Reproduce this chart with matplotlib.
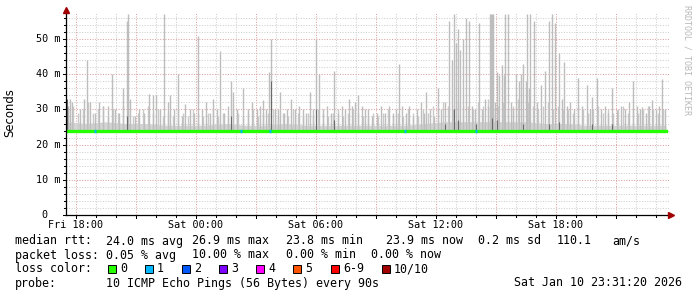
import numpy as np
import matplotlib.pyplot as plt
from matplotlib.patches import Rectangle

plt.rcParams['font.family'] = ['DejaVu Sans Mono', 'DejaVu Sans']

# time axis: hours since Fri 17:30
tick_t = [0.5, 6.5, 12.5, 18.5, 24.5]
tick_labels = ['Fri 18:00', 'Sat 00:00', 'Sat 06:00', 'Sat 12:00', 'Sat 18:00']
ms_ticks = [0, 10, 20, 30, 40, 50]
ms_labels = ['0', '10 m', '20 m', '30 m', '40 m', '50 m']

# smoke spikes (max ping per step, ms)
spike_t = [0.10, 0.20, 0.30, 0.70, 0.90, 1.05, 1.20, 1.45, 1.65, 1.85, 2.10, 2.30, 2.45, 2.65,
           2.85, 3.05, 3.10, 3.20, 3.45, 3.65, 3.90, 4.15, 4.35, 4.50, 4.70, 4.90, 5.10,
           5.20, 5.40, 5.60, 5.80, 5.95, 6.20, 6.40, 6.60, 6.80, 7.00, 7.20, 7.35, 7.55, 7.70,
           7.90, 8.10, 8.25, 8.35, 8.55, 8.85, 9.10, 9.30, 9.55, 9.70, 9.85, 10.00,
           10.15, 10.25, 10.45, 10.60, 10.70, 10.90, 11.05, 11.25, 11.45, 11.65, 11.85, 12.00,
           12.20, 12.35, 12.50, 12.65, 12.85, 13.05, 13.25, 13.40, 13.60, 13.80, 13.95, 14.15,
           14.30, 14.45, 14.60, 14.80, 14.95,
           15.10, 15.30, 15.55, 15.75, 15.95, 16.15, 16.35, 16.50, 16.65, 16.80, 17.00, 17.15,
           17.35, 17.55, 17.75, 17.90, 18.00, 18.20, 18.40, 18.60, 18.75, 18.95, 19.15, 19.30,
           19.40, 19.50, 19.60, 19.70, 19.85, 20.00,
           20.15, 20.30, 20.45, 20.65, 20.80, 20.95, 21.10, 21.20, 21.25, 21.30, 21.35, 21.45,
           21.55, 21.65, 21.80, 21.90, 21.95, 22.10, 22.25, 22.35, 22.50, 22.65, 22.75, 22.85,
           23.00, 23.05, 23.15, 23.20, 23.40, 23.55, 23.75, 23.95, 24.15, 24.30, 24.45, 24.65,
           24.80, 24.90, 25.05,
           25.20, 25.40, 25.60, 25.80, 26.05, 26.20, 26.30, 26.55, 26.75, 26.95, 27.10, 27.30,
           27.55, 27.75, 27.95, 28.15, 28.35, 28.55, 28.70, 28.80, 29.00, 29.15, 29.30, 29.50,
           29.65, 29.80, 29.95]
spike_ms = [31, 33, 32, 30, 33, 44, 32, 29, 32, 31, 31, 40, 30, 29,
            36, 55, 57, 33, 28, 30, 29, 34.5, 34, 34, 30, 57, 32,
            34, 30, 40, 28, 31.5, 30, 29, 51, 30, 32, 29, 33, 30, 46.6,
            29, 31, 38, 35, 30, 36, 30, 32, 30, 31, 32.6, 30,
            40.6, 50, 30, 30, 35, 29, 30, 33, 30, 31, 30, 29,
            35, 30, 50, 40, 30, 31, 29, 41, 29, 31, 30, 33,
            31, 32, 34, 31, 30,
            30, 28, 29, 31, 29, 31, 29, 30, 43, 31, 29, 31,
            28, 30, 32, 29, 35, 30, 28, 36, 30, 32, 55, 44,
            57, 49, 53, 47, 50, 56,
            55, 31, 30, 54.5, 30, 33, 31, 57, 57, 57, 57, 32,
            40.6, 39.8, 42.6, 39.8, 57, 57, 32, 30, 40, 38, 40, 43,
            38, 57, 36, 57, 55, 32, 37, 41, 55, 57, 54.5, 46,
            33, 43.5, 31,
            32, 30, 39, 31, 37, 30, 33.5, 39, 30, 31, 29, 36,
            29.8, 31, 30, 32, 38, 31, 30, 30.7, 29, 31, 32.7, 30,
            31, 38.6, 30]

# low smoke every 15 minutes (upper pings of the dense part, ms)
low_step = 0.25
low_ms = [30, 31, 29, 30, 32, 29, 30, 31, 28, 30, 29, 31, 30, 28, 29, 30, 31, 29, 30, 28,
          29, 28, 30, 29, 28, 30, 29, 28, 29, 30, 28, 29, 28, 30, 29, 28, 29, 30, 28, 29,
          29, 30, 28, 29, 28, 30, 29, 28, 29, 28, 30, 29, 28, 29, 30, 28, 29, 30, 29, 28,
          28, 29, 28, 29, 30, 28, 29, 28, 30, 29, 28, 30, 29, 31, 30, 32, 31, 30, 32, 31,
          31, 30, 32, 31, 33, 30, 31, 32, 30, 31, 33, 30, 32, 31, 30, 31, 32, 30, 31, 30,
          30, 29, 31, 30, 29, 30, 31, 29, 30, 29, 30, 31, 29, 30, 29, 30, 31, 30, 29, 30]

# dense smoke band top, hourly
band_t = list(range(0, 31))
band_ms = [26.5, 26.0, 26.5, 26.0, 26.0, 25.5, 25.5, 25.5, 26.0, 25.5, 25.5, 26.0, 25.5,
           25.5, 25.5, 25.5, 25.5, 25.5, 26.0, 26.5, 26.5, 26.5, 26.5, 26.5, 26.0, 26.0,
           25.5, 25.5, 25.5, 25.5, 25.5]

# darker streaks near the median
dark_t = [0.05, 3.05, 8.25, 10.25, 12.50, 13.40, 18.95, 19.40, 19.60, 20.50, 21.30, 21.55,
          22.85, 24.15, 24.65, 26.30, 27.30]
dark_ms = [33, 28, 28, 38, 30, 27, 26, 30, 27, 26, 27.5, 27, 26, 26, 26.5, 26, 26]

# median rtt, hourly
median_t = list(range(0, 31))
median_ms = [24.0] * 31

# packet loss events (1/10)
loss_t = [1.45, 8.75, 10.2, 16.95, 20.5]
loss_ms = [24.0, 24.0, 24.0, 24.0, 24.0]

loss_names = ['0', '1', '2', '3', '4', '5', '6-9', '10/10']
loss_colors = ['#26ff00', '#00b8ff', '#0059ff', '#7e00ff', '#ff00ff', '#ff5500', '#ff0000', '#a10000']

rtt_stats = ['24.0 ms avg', '26.9 ms max', '23.8 ms min', '23.9 ms now', '0.2 ms sd', '110.1', 'am/s']
loss_stats = ['0.05 % avg', '10.00 % max', '0.00 % min', '0.00 % now']
probe_text = '10 ICMP Echo Pings (56 Bytes) every 90s'
stamp = 'Sat Jan 10 23:31:20 2026'

W, H = 697, 297
fig = plt.figure(figsize=(W / 100, H / 100), dpi=100)
fig.patch.set_facecolor('white')
ax = fig.add_axes([66 / W, 82 / H, 603 / W, 203 / H])
ax.set_xlim(0, 30.15)
ax.set_ylim(0, 57.7)
ax.axis('off')

pxy = 57.7 / 203   # ms per pixel
pxx = 30.15 / 603  # hours per pixel

# grid
minor_c, major_c = '#cfcfcf', '#dfa0a0'
for h in np.arange(0.5, 30.15, 1.0):
    c = major_c if round(h - 0.5) % 3 == 0 else minor_c
    ax.plot([h, h], [0, 57.7], color=c, lw=0.75, ls=(0, (1, 1.5)), zorder=0.5)
    ax.plot([h, h], [0, -(3 if c == major_c else 2) * pxy], color='black', lw=0.75,
            clip_on=False, zorder=4)
for v in range(2, 58, 2):
    c = major_c if v % 10 == 0 else minor_c
    ax.plot([0, 30.15], [v, v], color=c, lw=0.75, ls=(0, (1, 1.5)), zorder=0.5)
    ax.plot([0, -(3 if v % 10 == 0 else 2) * pxx], [v, v], color='black', lw=0.75,
            clip_on=False, zorder=4)
ax.plot([0, -3 * pxx], [0, 0], color='black', lw=0.75, clip_on=False)

# smoke
ax.fill_between(band_t, 23.8, band_ms, color='#d4d4d4', lw=0, zorder=1)
low_t = np.arange(len(low_ms)) * low_step + 0.12
ax.vlines(low_t, 23.8, low_ms, color='#cacaca', lw=1.0, zorder=1.5)
ax.vlines(spike_t, 23.8, spike_ms, color='#bdbdbd', lw=1.0, zorder=2)
ax.vlines(dark_t, 24.0, dark_ms, color='#6a6a6a', lw=0.8, zorder=2.5)

# median line
ax.step(median_t, median_ms, where='mid', color=loss_colors[0], lw=2.4, zorder=3)
ax.hlines(loss_ms, np.array(loss_t) - 0.05, np.array(loss_t) + 0.05,
          color=loss_colors[1], lw=2.4, zorder=3.5)

# axes with arrows
ax.plot([0, 30.25], [0, 0], color='black', lw=0.9, clip_on=False, zorder=5)
ax.plot([0, 0], [0, 58.0], color='black', lw=0.9, clip_on=False, zorder=5)
ax.plot([30.25], [0], marker='>', ms=4, color='#a00000', clip_on=False, zorder=6)
ax.plot([0], [58.2], marker='^', ms=4, color='#a00000', clip_on=False, zorder=6)

# tick labels
for t, lab in zip(tick_t, tick_labels):
    ax.text(t, -10 * pxy, lab, ha='center', va='center', fontsize=7.3, clip_on=False)
for v, lab in zip(ms_ticks, ms_labels):
    xr = -6 * pxx if lab != '0' else -18 * pxx
    ax.text(xr, v, lab, ha='right', va='center', fontsize=7.3, clip_on=False)

fig.text(10 / W, 1 - 113 / H, 'Seconds', rotation=90, ha='center', va='center',
         fontsize=8.4, family='DejaVu Sans')
fig.text(687 / W, 1 - 60 / H, 'RRDTOOL / TOBI OETIKER', rotation=270, ha='center',
         va='center', fontsize=6, color='#b8b8b8')

# legend block
def put(x, y, s, **kw):
    fig.text(x / W, 1 - y / H, s, va='center', fontsize=8.4, **kw)

put(15, 241, 'median rtt:')
for x, s in zip([106, 192, 286, 386, 478, 557, 612], rtt_stats):
    put(x, 241, s)
put(15, 255, 'packet loss:')
for x, s in zip([106, 192, 286, 371], loss_stats):
    put(x, 255, s)
put(15, 269, 'loss color:')
for x, name, c in zip([108, 145, 182, 219, 256, 293, 331, 382], loss_names, loss_colors):
    fig.add_artist(Rectangle((x / W, 1 - 273 / H), 8 / W, 8 / H, transform=fig.transFigure,
                             facecolor=c, edgecolor='black', lw=0.7))
    put(x + 12, 269, name)
put(15, 283, 'probe:')
put(106, 283, probe_text)
put(682, 283, stamp, ha='right')

fig.savefig('out.png', dpi=100, facecolor='white')
